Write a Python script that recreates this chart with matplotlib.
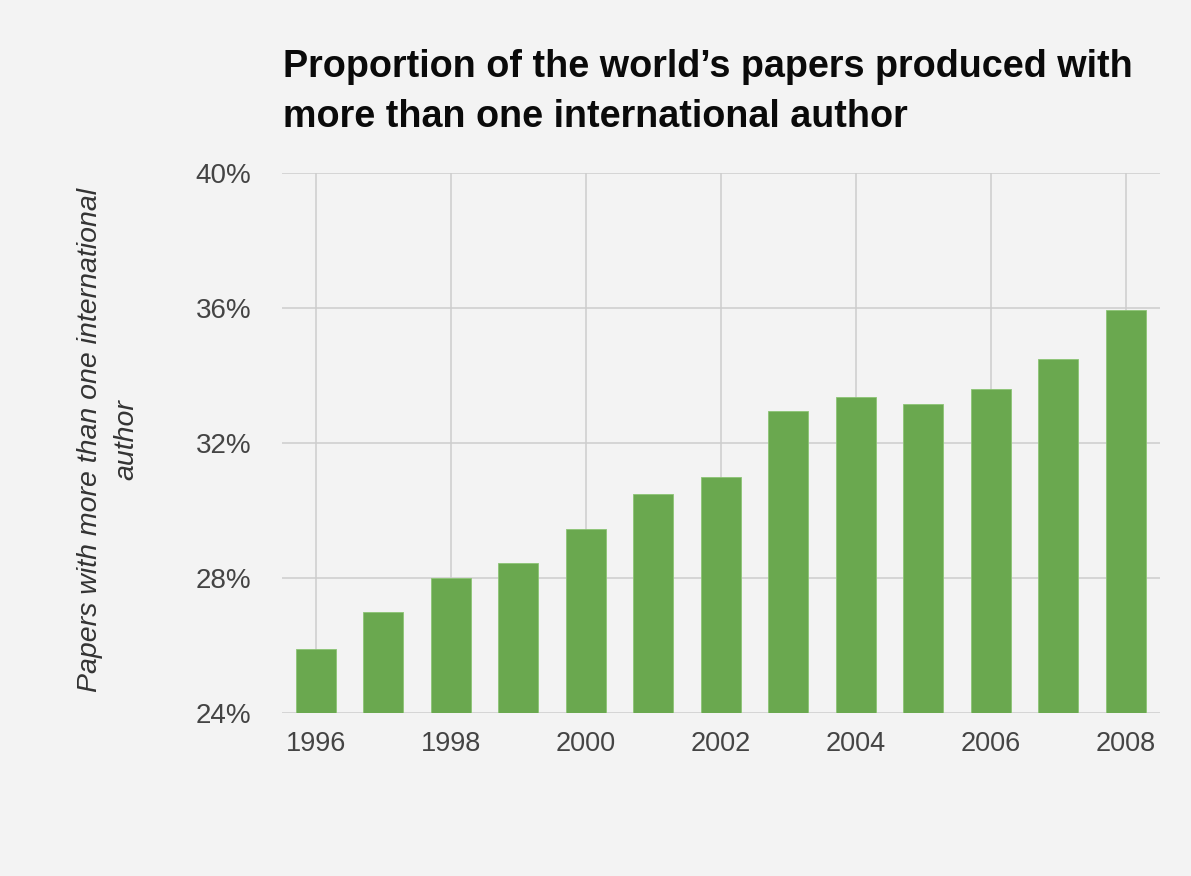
import matplotlib
matplotlib.use("Agg")
import matplotlib.pyplot as plt
from matplotlib.ticker import FixedLocator, FuncFormatter

years = [1996, 1997, 1998, 1999, 2000, 2001, 2002, 2003, 2004, 2005, 2006, 2007, 2008]
share = [25.9, 27.0, 28.0, 28.45, 29.45, 30.5, 31.0, 32.95, 33.35, 33.15, 33.6, 34.5, 35.95]
y_ticks = [24, 28, 32, 36, 40]
x_tick_years = [1996, 1998, 2000, 2002, 2004, 2006, 2008]

title_lines = ["Proportion of the world\u2019s papers produced with",
               "more than one international author"]
y_label = "Papers with more than one international\nauthor"

BG = "#f3f3f3"
BAR = "#6aa84f"
GRID = "#cccccc"

plt.rcParams['font.family'] = ['Liberation Sans', 'DejaVu Sans']

W, H = 1191, 876
fig = plt.figure(figsize=(W / 100, H / 100), dpi=100, facecolor=BG)
ax = fig.add_axes([282 / W, 1 - 712.7 / H, (1159.5 - 282) / W, (712.7 - 173.3) / H])
ax.set_facecolor(BG)

ax.bar(years, share, width=0.6, color=BAR, edgecolor="#8cc474", linewidth=0.6,
       bottom=0, zorder=3)

ax.set_xlim(years[0] - 0.5, years[-1] + 0.5)
ax.set_ylim(y_ticks[0], y_ticks[-1])
ax.yaxis.set_major_locator(FixedLocator(y_ticks))
ax.yaxis.set_major_formatter(FuncFormatter(lambda v, p: f"{v:.0f}%"))
ax.xaxis.set_major_locator(FixedLocator(x_tick_years))
ax.xaxis.set_major_formatter(FuncFormatter(lambda v, p: f"{v:.0f}"))

ax.grid(True, color=GRID, linewidth=1.1, zorder=0)
ax.set_axisbelow(True)
for s in ax.spines.values():
    s.set_visible(False)

ax.tick_params(axis='y', length=0, pad=22, labelsize=20, labelcolor="#444444")
ax.tick_params(axis='x', length=0, pad=13.5, labelsize=19.5, labelcolor="#444444")

fig.text(283 / W, 1 - 77 / H, title_lines[0], fontsize=27.2, fontweight='bold',
         color="#0a0a0a", ha='left', va='baseline')
fig.text(283 / W, 1 - 127 / H, title_lines[1], fontsize=27.2, fontweight='bold',
         color="#0a0a0a", ha='left', va='baseline')

fig.text(108.5 / W, 1 - 440 / H, y_label, rotation=90, fontsize=20.5, fontstyle='italic',
         color="#333333", ha='center', va='center', multialignment='center',
         linespacing=1.5)

fig.savefig("out.png", dpi=100, facecolor=BG)
